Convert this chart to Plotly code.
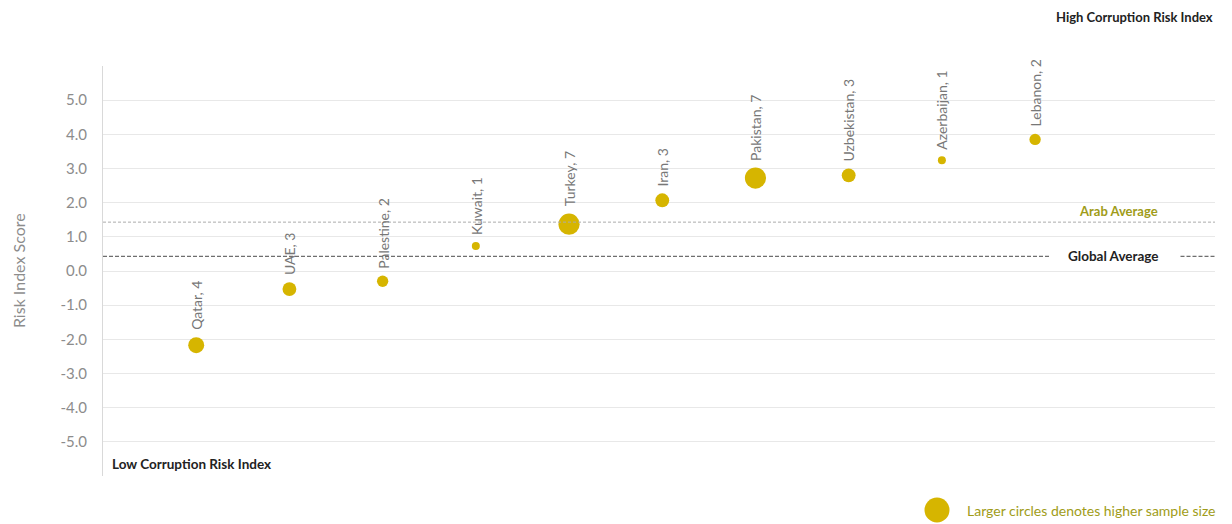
import numpy as np
import plotly.graph_objects as go

countries = ["Qatar", "UAE", "Palestine", "Kuwait", "Turkey", "Iran", "Pakistan", "Uzbekistan", "Azerbaijan", "Lebanon"]
sample_sizes = [4, 3, 2, 1, 7, 3, 7, 3, 1, 2]
risk_scores = [-2.17, -0.53, -0.30, 0.73, 1.37, 2.07, 2.72, 2.80, 3.24, 3.85]
arab_average = 1.43
global_average = 0.43
y_ticks = [-6, -5, -4, -3, -2, -1, 0, 1, 2, 3, 4, 5, 6]
y_ticklabels = ["", "-5.0", "-4.0", "-3.0", "-2.0", "-1.0", "0.0", "1.0", "2.0", "3.0", "4.0", "5.0", ""]

GOLD = "#d6b500"
OLIVE = "#a09c18"
FONT = "Lato"

xpos = list(range(1, len(countries) + 1))
diam = [8 * np.sqrt(n) for n in sample_sizes]

fig = go.Figure()
fig.add_trace(go.Scatter(
    x=xpos, y=risk_scores, mode="markers",
    marker=dict(size=diam, color=GOLD, opacity=1, line=dict(width=0)),
    hoverinfo="text", text=[f"{c}, {n}" for c, n in zip(countries, sample_sizes)],
    showlegend=False,
))

annotations = []
for x, y, c, n, d in zip(xpos, risk_scores, countries, sample_sizes, diam):
    annotations.append(dict(
        x=x, y=y, xref="x", yref="y", text=f"{c}, {n}", textangle=-90,
        showarrow=False, xanchor="center", yanchor="bottom", yshift=d / 2 + 5,
        font=dict(family=FONT, size=14, color="#777777"),
    ))

annotations += [
    dict(x=10.89, y=arab_average, xref="x", yref="y", text="<b>Arab Average</b>",
         showarrow=False, yanchor="bottom", yshift=1, font=dict(family=FONT, size=13, color=OLIVE)),
    dict(x=10.84, y=global_average, xref="x", yref="y", text="<b>Global Average</b>",
         showarrow=False, yanchor="middle", font=dict(family=FONT, size=13.5, color="#222222")),
    dict(x=1.0, y=1.12, xref="paper", yref="paper", text="<b>High Corruption Risk Index</b>",
         showarrow=False, xanchor="right", yanchor="middle", font=dict(family=FONT, size=13, color="#222222")),
    dict(x=0.075, y=-5.65, xref="x", yref="y", text="<b>Low Corruption Risk Index</b>",
         showarrow=False, xanchor="left", yanchor="middle", font=dict(family=FONT, size=13.5, color="#222222")),
    dict(x=0.775, y=-0.083, xref="paper", yref="paper", text="Larger circles denotes higher sample size",
         showarrow=False, xanchor="left", yanchor="middle", font=dict(family=FONT, size=14, color=OLIVE)),
    dict(x=-0.0764, y=0.5, xref="paper", yref="paper", text="Risk Index Score", textangle=-90,
         showarrow=False, xanchor="center", yanchor="middle", font=dict(family=FONT, size=16, color="#8c8c8c")),
]

shapes = [
    dict(type="line", xref="x", yref="y", x0=0, x1=12.04, y0=arab_average, y1=arab_average,
         line=dict(color="#ababab", width=1, dash="3px,2px")),
    dict(type="line", xref="x", yref="y", x0=0, x1=10.16, y0=global_average, y1=global_average,
         line=dict(color="#6e6e6e", width=1.2, dash="4px,2px")),
    dict(type="line", xref="x", yref="y", x0=11.56, x1=12.04, y0=global_average, y1=global_average,
         line=dict(color="#6e6e6e", width=1.2, dash="4px,2px")),
    dict(type="circle", xref="paper", yref="paper", xsizemode="pixel", ysizemode="pixel",
         xanchor=0.75, yanchor=-0.083, x0=-12.5, x1=12.5, y0=-12.5, y1=12.5,
         fillcolor=GOLD, line=dict(width=0)),
]

fig.update_layout(
    width=1224, height=516,
    margin=dict(l=95, r=17, t=58, b=48, autoexpand=False),
    paper_bgcolor="white", plot_bgcolor="white",
    annotations=annotations, shapes=shapes,
    xaxis=dict(range=[0, 11.93], showgrid=False, showticklabels=False, zeroline=False,
               showline=False, ticks=""),
    yaxis=dict(range=[-6, 6], tickvals=y_ticks, ticktext=y_ticklabels,
               showgrid=True, gridcolor="#e8e8e8", gridwidth=1, zeroline=False,
               showline=True, linecolor="#d9d9d9", ticks="", ticklen=0, ticklabelstandoff=12,
               tickfont=dict(family=FONT, size=15, color="#8c8c8c")),
    font=dict(family=FONT),
)

fig.write_html("out.html")
